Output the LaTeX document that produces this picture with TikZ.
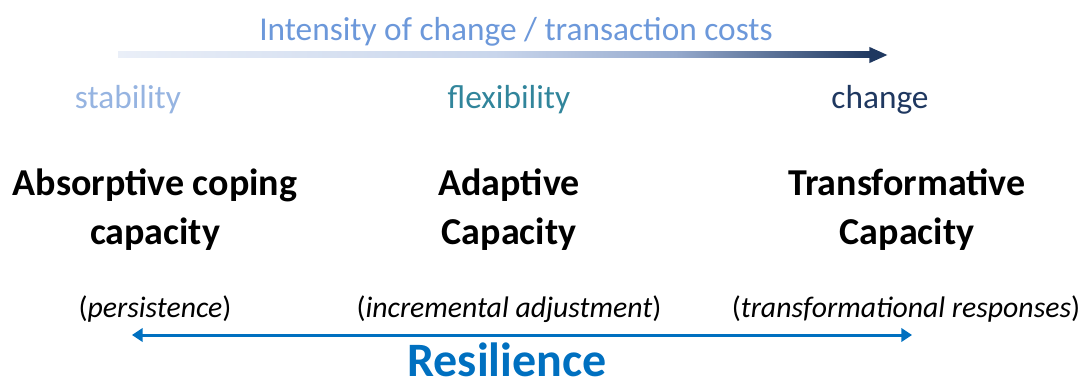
\documentclass[tikz,border=0pt]{standalone}
\usepackage{fontspec}
\setmainfont{Carlito}
\usetikzlibrary{arrows.meta}

\definecolor{titleblue}{RGB}{108,152,218}
\definecolor{stabblue}{RGB}{150,180,225}
\definecolor{flexteal}{RGB}{49,133,155}
\definecolor{changenavy}{RGB}{31,56,96}
\definecolor{resblue}{RGB}{0,112,192}
\definecolor{fadelight}{RGB}{234,239,248}
\definecolor{fademid}{RGB}{201,214,236}
\definecolor{fadedeep}{RGB}{150,170,205}

% light to dark along the intensity axis
\pgfdeclarehorizontalshading{intensityfade}{100bp}{color(0bp)=(fadelight); color(25bp)=(fadelight);
  color(50bp)=(fademid); color(62bp)=(fadedeep); color(75bp)=(changenavy); color(100bp)=(changenavy)}

\begin{document}
\begin{tikzpicture}[
            x=0.75pt, y=-0.75pt,
            every node/.style={inner sep=0pt, anchor=base},
            level/.style={font=\fontsize{25}{30}\selectfont},
            capacity/.style={font=\fontsize{28.5}{37}\selectfont\bfseries, align=center},
            mode/.style={font=\fontsize{22.3}{27}\selectfont},
            resarrow/.style={resblue, line width=2.25pt, {Triangle[length=8pt,width=10pt]}-{Triangle[length=8pt,width=10pt]}}
        ]
        \useasboundingbox (0,0) rectangle (1085,388);

        % Intensity axis
        \node[level, text=titleblue] (intensity) at (516,41) {Intensity of change / transaction costs};
        \coordinate (shaft sw) at (118,58);
        \coordinate (shaft ne) at (871,52);
        \coordinate (shaft end) at (869,55);
        \coordinate (axis tip) at (888,55);
        \shade[shading=intensityfade] (shaft sw) rectangle (shaft ne);
        \draw[changenavy, line width=4.5pt, -{Triangle[length=14pt,width=11pt]}] (shaft end) -- (axis tip);

        % Levels
        \node[level, text=stabblue] (stability) at (128,109) {stability};
        \node[level, text=flexteal] (flexibility) at (509,109) {flexibility};
        \node[level, text=changenavy] (change) at (880,109) {change};

        % Capacities (base sits on the second line)
        \node[capacity] (absorptive) at (155,245) {Absorptive coping\\capacity};
        \node[capacity] (adaptive) at (509,245) {Adaptive\\Capacity};
        \node[capacity] (transformative) at (907,245) {Transformative\\Capacity};

        % Modes of response
        \node[mode] (persistence) at (155,318) {(\textit{persistence})};
        \node[mode] (incremental) at (509,318) {(\textit{incremental adjustment})};
        \node[mode] (transformational) at (906,318) {(\textit{transformational responses})};

        % Resilience axis
        \coordinate (res left) at (132,335);
        \coordinate (res right) at (912,335);
        \draw[resarrow] (res left) -- (res right);
        \node[font=\fontsize{36}{43}\selectfont\bfseries, text=resblue] (resilience) at (507,376) {Resilience};
\end{tikzpicture}
\end{document}
